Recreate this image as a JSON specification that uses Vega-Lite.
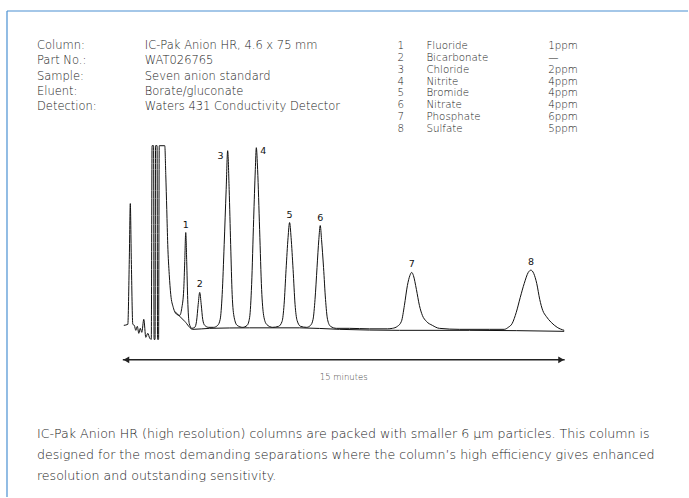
{
  "$schema": "https://vega.github.io/schema/vega-lite/v6.json",
  "width": 689,
  "height": 498,
  "autosize": {"type": "fit", "contains": "padding"},
  "padding": 0,
  "background": "white",
  "config": {"view": {"stroke": null}},
  "datasets": {
    "trace": [
      {"k":"signal","t":0.034,"s":1},{"k":"signal","t":0.169,"s":2},{"k":"signal","t":0.220,"s":67},{"k":"signal","t":0.254,"s":123},{"k":"signal","t":0.288,"s":67},{"k":"signal","t":0.339,"s":2},{"k":"signal","t":0.390,"s":1},{"k":"signal","t":0.441,"s":-4},{"k":"signal","t":0.492,"s":0},{"k":"signal","t":0.542,"s":-7},{"k":"signal","t":0.593,"s":-2},{"k":"signal","t":0.644,"s":-6},{"k":"signal","t":0.712,"s":7},{"k":"signal","t":0.780,"s":-11},{"k":"signal","t":0.847,"s":-7},{"k":"signal","t":0.915,"s":-12},{"k":"signal","t":0.966,"s":-13},{"k":"signal","t":0.993,"s":181},{"k":"signal","t":1.044,"s":181},{"k":"signal","t":1.061,"s":-13},{"k":"signal","t":1.095,"s":-13},{"k":"signal","t":1.112,"s":181},{"k":"signal","t":1.163,"s":181},{"k":"signal","t":1.180,"s":-13},{"k":"signal","t":1.214,"s":-13},{"k":"signal","t":1.237,"s":181},{"k":"signal","t":1.424,"s":181},{"k":"signal","t":1.458,"s":152},{"k":"signal","t":1.492,"s":117},{"k":"signal","t":1.525,"s":82},{"k":"signal","t":1.576,"s":52},{"k":"signal","t":1.627,"s":32},{"k":"signal","t":1.712,"s":19},{"k":"signal","t":1.831,"s":12},{"k":"signal","t":1.932,"s":11},{"k":"signal","t":2.000,"s":18},{"k":"signal","t":2.068,"s":37},{"k":"signal","t":2.102,"s":65},{"k":"signal","t":2.136,"s":94},{"k":"signal","t":2.169,"s":65},{"k":"signal","t":2.203,"s":27},{"k":"signal","t":2.254,"s":3},{"k":"signal","t":2.339,"s":-2},{"k":"signal","t":2.441,"s":-1},{"k":"signal","t":2.502,"s":5},{"k":"signal","t":2.559,"s":22},{"k":"signal","t":2.610,"s":34},{"k":"signal","t":2.661,"s":22},{"k":"signal","t":2.712,"s":7},{"k":"signal","t":2.780,"s":1},{"k":"signal","t":2.915,"s":-1},{"k":"signal","t":3.085,"s":-1},{"k":"signal","t":3.220,"s":1},{"k":"signal","t":3.305,"s":7},{"k":"signal","t":3.373,"s":32},{"k":"signal","t":3.441,"s":82},{"k":"signal","t":3.508,"s":137},{"k":"signal","t":3.559,"s":176},{"k":"signal","t":3.610,"s":137},{"k":"signal","t":3.661,"s":82},{"k":"signal","t":3.712,"s":32},{"k":"signal","t":3.780,"s":9},{"k":"signal","t":3.881,"s":1},{"k":"signal","t":4.068,"s":-1},{"k":"signal","t":4.220,"s":1},{"k":"signal","t":4.305,"s":9},{"k":"signal","t":4.373,"s":42},{"k":"signal","t":4.441,"s":107},{"k":"signal","t":4.498,"s":157},{"k":"signal","t":4.532,"s":179},{"k":"signal","t":4.576,"s":157},{"k":"signal","t":4.644,"s":97},{"k":"signal","t":4.712,"s":37},{"k":"signal","t":4.780,"s":11},{"k":"signal","t":4.881,"s":2},{"k":"signal","t":5.085,"s":-1},{"k":"signal","t":5.288,"s":0},{"k":"signal","t":5.407,"s":5},{"k":"signal","t":5.475,"s":22},{"k":"signal","t":5.542,"s":57},{"k":"signal","t":5.610,"s":89},{"k":"signal","t":5.661,"s":104},{"k":"signal","t":5.712,"s":89},{"k":"signal","t":5.780,"s":57},{"k":"signal","t":5.847,"s":22},{"k":"signal","t":5.915,"s":6},{"k":"signal","t":6.034,"s":0},{"k":"signal","t":6.237,"s":-1},{"k":"signal","t":6.373,"s":1},{"k":"signal","t":6.458,"s":7},{"k":"signal","t":6.525,"s":27},{"k":"signal","t":6.593,"s":59},{"k":"signal","t":6.654,"s":87},{"k":"signal","t":6.702,"s":101},{"k":"signal","t":6.746,"s":87},{"k":"signal","t":6.814,"s":59},{"k":"signal","t":6.881,"s":27},{"k":"signal","t":6.949,"s":7},{"k":"signal","t":7.051,"s":0},{"k":"signal","t":7.254,"s":-2},{"k":"signal","t":7.695,"s":-2},{"k":"signal","t":8.373,"s":-2.5},{"k":"signal","t":8.983,"s":-2.5},{"k":"signal","t":9.153,"s":-2},{"k":"signal","t":9.322,"s":0},{"k":"signal","t":9.458,"s":5},{"k":"signal","t":9.559,"s":21},{"k":"signal","t":9.661,"s":41},{"k":"signal","t":9.746,"s":51},{"k":"signal","t":9.807,"s":54},{"k":"signal","t":9.864,"s":51},{"k":"signal","t":9.966,"s":37},{"k":"signal","t":10.068,"s":21},{"k":"signal","t":10.169,"s":11},{"k":"signal","t":10.305,"s":5},{"k":"signal","t":10.508,"s":1},{"k":"signal","t":10.746,"s":-2},{"k":"signal","t":11.424,"s":-3},{"k":"signal","t":12.441,"s":-3},{"k":"signal","t":12.949,"s":-3},{"k":"signal","t":13.085,"s":-1},{"k":"signal","t":13.220,"s":3},{"k":"signal","t":13.356,"s":14},{"k":"signal","t":13.492,"s":29},{"k":"signal","t":13.627,"s":43},{"k":"signal","t":13.763,"s":54},{"k":"signal","t":13.854,"s":56.3},{"k":"signal","t":13.949,"s":53},{"k":"signal","t":14.051,"s":43},{"k":"signal","t":14.153,"s":27},{"k":"signal","t":14.254,"s":16},{"k":"signal","t":14.373,"s":10},{"k":"signal","t":14.542,"s":4},{"k":"signal","t":14.746,"s":-1},{"k":"signal","t":14.983,"s":-4},
      {"k":"baseline","t":1.763,"s":15},{"k":"baseline","t":2.102,"s":5},{"k":"baseline","t":2.373,"s":-3},{"k":"baseline","t":2.949,"s":-2},{"k":"baseline","t":4.305,"s":-1.5},{"k":"baseline","t":6.000,"s":-1.5},{"k":"baseline","t":7.356,"s":-3},{"k":"baseline","t":9.390,"s":-4},{"k":"baseline","t":11.763,"s":-4},{"k":"baseline","t":14.983,"s":-5}
    ],
    "peaks": [
      {"peak":1,"name":"Fluoride","conc":"1ppm","t":2.136,"height":94},
      {"peak":2,"name":"Bicarbonate","conc":"—","t":2.610,"height":34},
      {"peak":3,"name":"Chloride","conc":"2ppm","t":3.559,"height":176},
      {"peak":4,"name":"Nitrite","conc":"4ppm","t":4.532,"height":179},
      {"peak":5,"name":"Bromide","conc":"4ppm","t":5.661,"height":104},
      {"peak":6,"name":"Nitrate","conc":"4ppm","t":6.702,"height":101},
      {"peak":7,"name":"Phosphate","conc":"6ppm","t":9.807,"height":54},
      {"peak":8,"name":"Sulfate","conc":"5ppm","t":13.854,"height":56.3}
    ],
    "info": [
      {"row":0,"label":"Column:","value":"IC-Pak Anion HR, 4.6 x 75 mm"},
      {"row":1,"label":"Part No.:","value":"WAT026765"},
      {"row":2,"label":"Sample:","value":"Seven anion standard"},
      {"row":3,"label":"Eluent:","value":"Borate/gluconate"},
      {"row":4,"label":"Detection:","value":"Waters 431 Conductivity Detector"}
    ],
    "paragraph": [
      {"line":0,"text":"IC-Pak Anion HR (high resolution) columns are packed with smaller 6 µm particles. This column is"},
      {"line":1,"text":"designed for the most demanding separations where the column’s high efficiency gives enhanced"},
      {"line":2,"text":"resolution and outstanding sensitivity."}
    ],
    "arrow": [{"end":"start","t":0},{"end":"end","t":15}]
  },
  "resolve": {"scale": {"y": "independent"}},
  "layer": [
    {
      "layer": [
        {
          "data": {"name":"trace"},
          "mark": {"type":"line","color":"#111111","strokeWidth":1,"interpolate":"monotone"},
          "encoding": {
            "x": {"field":"t","type":"quantitative","axis":null,"scale":{"domain":[-4.1695,19.1864],"nice":false,"zero":false}},
            "y": {"field":"s","type":"quantitative","axis":null,"scale":{"domain":[-171,327],"nice":false,"zero":false}},
            "detail":{"field":"k"}
          }
        },
        {
          "data": {"name":"peaks"},
          "transform": [{"filter":"datum.peak != 3 && datum.peak != 4"}],
          "mark": {"type":"text","baseline":"bottom","align":"center","dy":-3,"font":"DejaVu Sans","fontSize":9.5,"color":"#111111"},
          "encoding": {"x":{"field":"t","type":"quantitative","axis":null},"y":{"field":"height","type":"quantitative","axis":null},"text":{"field":"peak"}}
        },
        {
          "data": {"name":"peaks"},
          "transform": [{"filter":"datum.peak == 3"}],
          "mark": {"type":"text","baseline":"top","align":"right","dx":-4,"dy":0,"font":"DejaVu Sans","fontSize":9.5,"color":"#111111"},
          "encoding": {"x":{"field":"t","type":"quantitative","axis":null},"y":{"field":"height","type":"quantitative","axis":null},"text":{"field":"peak"}}
        },
        {
          "data": {"name":"peaks"},
          "transform": [{"filter":"datum.peak == 4"}],
          "mark": {"type":"text","baseline":"top","align":"left","dx":4,"dy":-2,"font":"DejaVu Sans","fontSize":9.5,"color":"#111111"},
          "encoding": {"x":{"field":"t","type":"quantitative","axis":null},"y":{"field":"height","type":"quantitative","axis":null},"text":{"field":"peak"}}
        },
        {
          "data": {"name":"arrow"},
          "mark": {"type":"rule","color":"#222222","strokeWidth":1.5},
          "encoding": {"x":{"aggregate":"min","field":"t","type":"quantitative","axis":null},"x2":{"aggregate":"max","field":"t"},"y":{"datum":-33.5,"type":"quantitative","axis":null}}
        },
        {
          "data": {"name":"arrow"},
          "transform": [{"filter":"datum.end == 'start'"}],
          "mark": {"type":"point","shape":"triangle-left","filled":true,"color":"#222222","opacity":1,"size":45,"xOffset":3.5},
          "encoding": {"x":{"field":"t","type":"quantitative","axis":null},"y":{"datum":-33.5,"type":"quantitative","axis":null}}
        },
        {
          "data": {"name":"arrow"},
          "transform": [{"filter":"datum.end == 'end'"}],
          "mark": {"type":"point","shape":"triangle-right","filled":true,"color":"#222222","opacity":1,"size":45,"xOffset":-3.5},
          "encoding": {"x":{"field":"t","type":"quantitative","axis":null},"y":{"datum":-33.5,"type":"quantitative","axis":null}}
        },
        {
          "data": {"values":[{"label":"15 minutes"}]},
          "mark": {"type":"text","align":"center","baseline":"middle","font":"DejaVu Sans","fontWeight":200,"fontSize":8.5,"color":"#444444"},
          "encoding": {"x":{"datum":7.5,"type":"quantitative","axis":null},"y":{"datum":-51,"type":"quantitative","axis":null},"text":{"field":"label"}}
        },
        {
          "data": {"values":[{"edge":"top"}]},
          "mark": {"type":"rule","color":"#4a90d2","strokeWidth":1.2},
          "encoding": {"x":{"datum":-3.932,"type":"quantitative","axis":null},"x2":{"datum":19.1864},"y":{"datum":316,"type":"quantitative","axis":null}}
        },
        {
          "data": {"values":[{"edge":"left"}]},
          "mark": {"type":"rule","color":"#4a90d2","strokeWidth":1.2},
          "encoding": {"x":{"datum":-3.932,"type":"quantitative","axis":null},"y":{"datum":316,"type":"quantitative","axis":null},"y2":{"datum":-171}}
        }
      ]
    },
    {
      "data": {"name":"info"},
      "encoding": {
        "y": {"field":"row","type":"quantitative","axis":null,"scale":{"domain":[0,4],"range":[46,107],"nice":false,"zero":false}}
      },
      "layer": [
        {
          "mark": {"type":"text","align":"left","baseline":"middle","font":"DejaVu Sans","fontWeight":200,"fontSize":11.5,"color":"#222222"},
          "encoding": {"x":{"datum":-2.915,"type":"quantitative","axis":null},"text":{"field":"label"}}
        },
        {
          "mark": {"type":"text","align":"left","baseline":"middle","font":"DejaVu Sans","fontWeight":200,"fontSize":11.5,"color":"#222222"},
          "encoding": {"x":{"datum":0.746,"type":"quantitative","axis":null},"text":{"field":"value"}}
        }
      ]
    },
    {
      "data": {"name":"peaks"},
      "encoding": {
        "y": {"field":"peak","type":"quantitative","axis":null,"scale":{"domain":[1,8],"range":[46,129],"nice":false,"zero":false}}
      },
      "layer": [
        {
          "mark": {"type":"text","align":"left","baseline":"middle","font":"DejaVu Sans","fontWeight":200,"fontSize":10.3,"color":"#222222"},
          "encoding": {"x":{"datum":9.322,"type":"quantitative","axis":null},"text":{"field":"peak"}}
        },
        {
          "mark": {"type":"text","align":"left","baseline":"middle","font":"DejaVu Sans","fontWeight":200,"fontSize":10.3,"color":"#222222"},
          "encoding": {"x":{"datum":10.305,"type":"quantitative","axis":null},"text":{"field":"name"}}
        },
        {
          "mark": {"type":"text","align":"left","baseline":"middle","font":"DejaVu Sans","fontWeight":200,"fontSize":10.3,"color":"#222222"},
          "encoding": {"x":{"datum":14.441,"type":"quantitative","axis":null},"text":{"field":"conc"}}
        }
      ]
    },
    {
      "data": {"name":"paragraph"},
      "mark": {"type":"text","align":"left","baseline":"middle","font":"DejaVu Sans","fontWeight":200,"fontSize":12.6,"color":"#222222"},
      "encoding": {
        "x": {"datum":-2.915,"type":"quantitative","axis":null},
        "y": {"field":"line","type":"quantitative","axis":null,"scale":{"domain":[0,2],"range":[434,476],"nice":false,"zero":false}},
        "text": {"field":"text"}
      }
    }
  ]
}
